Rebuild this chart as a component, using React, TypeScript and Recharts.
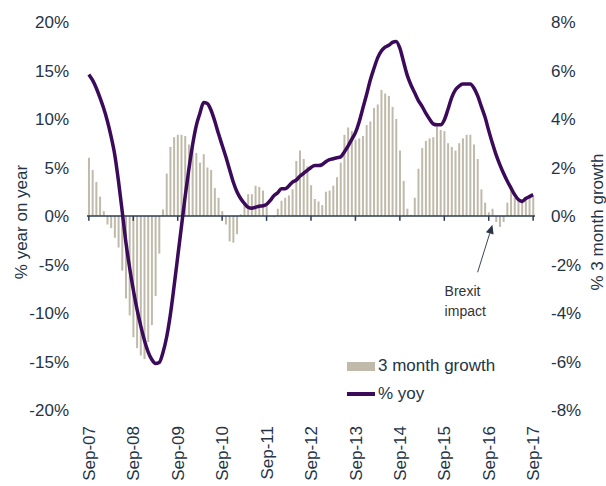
import React from "react";
import {
  ComposedChart,
  Bar,
  Line,
  XAxis,
  YAxis,
  ReferenceLine,
  Legend,
} from "recharts";

// monthly, Sep-07 .. Sep-17
const MONTHS = ["Jan", "Feb", "Mar", "Apr", "May", "Jun", "Jul", "Aug", "Sep", "Oct", "Nov", "Dec"];

const growth3m = [
  2.4, 1.9, 1.4, 0.8, 0.2, -0.35, -0.5, -0.9, -1.3, -2.25, -3.4, -4.1,
  -5.0, -5.45, -5.75, -5.9, -5.2, -4.5, -3.3, -1.55, 0.27, 1.75, 2.85, 3.25,
  3.35, 3.35, 3.3, 2.95, 2.9, 2.6, 2.2, 2.55, 2.0, 1.9, 1.15, 0.75,
  0.2, -0.35, -1.05, -1.1, -0.75, 0.07, 0.45, 0.9, 0.9, 1.25, 1.2, 1.05,
  0.4, 0.0, -0.05, 0.3, 0.63, 0.75, 0.85, 1.1, 2.27, 2.7, 2.35, 2.05,
  1.27, 0.7, 0.6, 0.45, 1.0, 1.05, 1.25, 1.6, 2.2, 3.35, 3.65, 3.5,
  3.15, 3.2, 3.3, 3.75, 3.9, 4.45, 4.6, 5.2, 5.05, 4.95, 4.5, 4.0,
  2.7, 1.45, 0.3, 0.05, 0.75, 1.95, 2.8, 3.1, 3.2, 3.25, 3.7, 3.55,
  3.5, 3.0, 2.85, 2.7, 3.0, 3.2, 3.35, 3.35, 2.95, 2.35, 1.1, 0.55,
  0.15, 0.3, -0.25, -0.45, -0.25, 0.55, 1.1, 0.75, 0.7, 0.7, 0.72, 0.85,
  0.8,
];

const yoy = [
  14.6, 14.0, 13.2, 12.2, 11.1, 9.8, 8.2, 6.3, 3.6, 0.5, -2.7, -5.3,
  -7.6, -9.6, -11.3, -12.8, -14.0, -14.8, -15.2, -15.1, -14.1, -12.5, -10.2, -7.3,
  -4.2, -1.1, 2.0, 4.8, 7.3, 9.3, 10.6, 11.7, 11.6, 10.9, 9.8, 8.5,
  7.3, 6.1, 4.8, 3.5, 2.5, 1.8, 1.3, 0.9, 0.8, 0.9, 1.0, 1.05,
  1.2, 1.6, 2.1, 2.4, 2.8, 2.8, 3.1, 3.5, 3.7, 4.1, 4.4, 4.7,
  5.0, 5.2, 5.2, 5.3, 5.6, 5.8, 5.9, 6.0, 6.1, 6.6, 7.2, 7.9,
  8.6, 9.7, 11.1, 12.5, 14.0, 15.2, 16.3, 17.0, 17.4, 17.6, 17.9, 18.0,
  17.3, 15.9, 14.5, 13.5, 12.7, 11.9, 11.3, 10.6, 10.0, 9.5, 9.4, 9.4,
  9.9, 11.0, 12.2, 13.0, 13.4, 13.6, 13.6, 13.6, 13.2, 12.4, 11.3, 10.2,
  8.8, 7.5, 6.3, 5.3, 4.4, 3.6, 2.9, 2.2, 1.7, 1.5, 1.8, 2.0,
  2.2,
];

const leftTicks = [-20, -15, -10, -5, 0, 5, 10, 15, 20];
const rightTicks = [-8, -6, -4, -2, 0, 2, 4, 6, 8];

const months = growth3m.map((_, i) => {
  const m = (8 + i) % 12;
  const y = 7 + Math.floor((8 + i) / 12);
  return `${MONTHS[m]}-${String(y).padStart(2, "0")}`;
});
const xTicks = months.filter((m) => m.startsWith("Sep"));

const data = months.map((month, i) => ({ month, growth: growth3m[i], yoy: yoy[i] }));

const TEXT = "#253445";
const FONT = "'Liberation Sans', Arial, sans-serif";
const BAR = "#bfbaa9";
const LINE = "#3c0a5a";

function XTick({ x, y, payload }: any) {
  return (
    <text
      x={x}
      y={y}
      transform={`rotate(-90 ${x} ${y})`}
      textAnchor="end"
      dy="0.36em"
      fill={TEXT}
      fontSize={17}
      fontFamily={FONT}
    >
      {payload.value}
    </text>
  );
}

function SideTitle({ viewBox, value, cx }: any) {
  const cy = viewBox.y + viewBox.height / 2 + 6;
  return (
    <text
      x={cx}
      y={cy}
      transform={`rotate(-90 ${cx} ${cy})`}
      textAnchor="middle"
      dominantBaseline="central"
      fill={TEXT}
      fontSize={17}
      fontFamily={FONT}
    >
      {value}
    </text>
  );
}

function Arrow(props: any) {
  const { x1, y1, x2, y2 } = props;
  const ang = Math.atan2(y2 - y1, x2 - x1);
  const L = 9;
  const W = 4;
  const bx = x2 - L * Math.cos(ang);
  const by = y2 - L * Math.sin(ang);
  const px = -Math.sin(ang) * W;
  const py = Math.cos(ang) * W;
  return (
    <g>
      <line x1={x1} y1={y1} x2={bx} y2={by} stroke="#3a4656" strokeWidth={1} />
      <polygon points={`${x2},${y2} ${bx + px},${by + py} ${bx - px},${by - py}`} fill="#2a3646" />
      <text x={x1 - 33} y={y1 + 24} fontSize={14} fill="#333" fontFamily={FONT}>
        Brexit
      </text>
      <text x={x1 - 33} y={y1 + 44} fontSize={14} fill="#333" fontFamily={FONT}>
        impact
      </text>
    </g>
  );
}

function LegendBox() {
  const row: React.CSSProperties = { display: "flex", alignItems: "center", height: 28 };
  return (
    <div style={{ fontFamily: FONT, fontSize: 17, color: TEXT }}>
      <div style={row}>
        <span style={{ display: "inline-block", width: 28, height: 9, background: BAR, marginRight: 3 }} />
        3 month growth
      </div>
      <div style={row}>
        <span style={{ display: "inline-block", width: 28, height: 3.5, background: LINE, marginRight: 3 }} />
        % yoy
      </div>
    </div>
  );
}

export default function App() {
  return (
    <div style={{ position: "absolute", left: 0, top: 0, width: 606, height: 486, background: "#fff" }}>
      <ComposedChart
        width={606}
        height={486}
        data={data}
        margin={{ top: 22, right: 0, bottom: 0, left: 0 }}
        barCategoryGap="26%"
      >
        <XAxis
          dataKey="month"
          ticks={xTicks}
          interval={0}
          axisLine={false}
          tickLine={false}
          height={76}
          tick={<XTick />}
          tickMargin={10}
        />
        <YAxis
          yAxisId="left"
          orientation="left"
          domain={[-20, 20]}
          ticks={leftTicks}
          width={87}
          axisLine={false}
          tickLine={false}
          tickSize={0}
          tickMargin={18}
          tickFormatter={(v: number) => `${v}%`}
          tick={{ fill: TEXT, fontSize: 17, fontFamily: FONT }}
          label={<SideTitle value="% year on year" cx={21} />}
        />
        <YAxis
          yAxisId="right"
          orientation="right"
          domain={[-8, 8]}
          ticks={rightTicks}
          width={71}
          axisLine={false}
          tickLine={false}
          tickSize={0}
          tickMargin={16}
          tickFormatter={(v: number) => `${v}%`}
          tick={{ fill: TEXT, fontSize: 17, fontFamily: FONT, textAnchor: "start" }}
          label={<SideTitle value="% 3 month growth" cx={597} />}
        />
        <Bar yAxisId="right" dataKey="growth" fill={BAR} isAnimationActive={false} legendType="rect" name="3 month growth" />
        <ReferenceLine yAxisId="left" y={0} stroke="#2c3c55" strokeWidth={1.5} />
        {xTicks.map((t) => (
          <ReferenceLine
            key={t}
            yAxisId="left"
            segment={[
              { x: t, y: 0 },
              { x: t, y: -0.5 },
            ]}
            stroke="#2c3c55"
            strokeWidth={1.5}
          />
        ))}
        <Line
          yAxisId="left"
          dataKey="yoy"
          type="monotone"
          stroke={LINE}
          strokeWidth={3.5}
          dot={false}
          activeDot={false}
          isAnimationActive={false}
          name="% yoy"
        />
        <ReferenceLine
          yAxisId="left"
          segment={[
            { x: "Jun-16", y: -5.8 },
            { x: "Oct-16", y: -0.9 },
          ]}
          shape={<Arrow />}
        />
        <Legend
          layout="vertical"
          align="center"
          verticalAlign="middle"
          content={<LegendBox />}
          wrapperStyle={{ left: 347, top: 352, width: 200 }}
        />
      </ComposedChart>
    </div>
  );
}
